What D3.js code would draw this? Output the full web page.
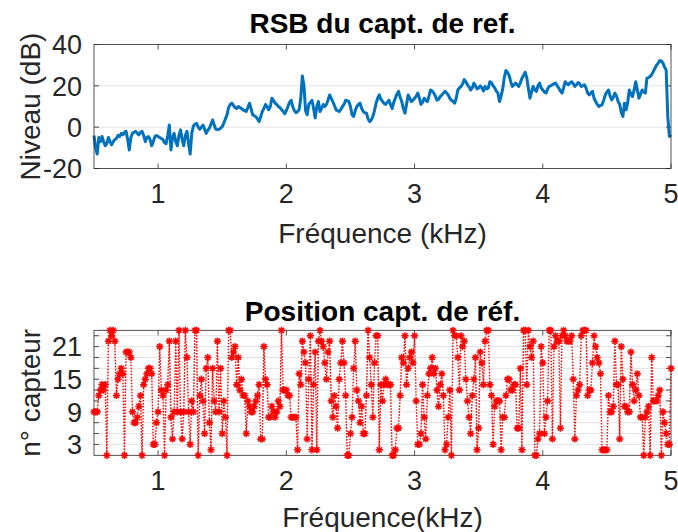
<!DOCTYPE html>
<html><head><meta charset="utf-8">
<script src="https://cdn.jsdelivr.net/npm/d3@7"></script>
<style>
html,body{margin:0;padding:0;background:#fff;}
svg{display:block;font-family:"Liberation Sans",Arial,Helvetica,sans-serif;}
</style></head>
<body>
<svg id="chart" width="678" height="532"></svg>
<script>
// ---------- data ----------
const freqStart = 0.5;      // kHz
const freqStep = 0.0125;    // kHz
// RSB (dB) of the reference sensor
const snrDb = [
-4,-10,-13,-5,-7,-4.5,-7,-9,-8,-5,
-7,-8.5,-7,-6,-5.5,-4,-4.5,-3,-3.7,-2.5,
-2,-6,-11,-5,-3,-2.5,-2,-3,-3.7,-2.5,
-2,-4,-7,-5,-4.5,-6,-9,-7,-4.5,-4,
-4.5,-5,-5.5,-6,-7.5,-8,-4,1,-11,-5,
-3,-7,-9,-4,-1.3,-6,-9,-4,-2,-8,
-13,-3,0.5,1.5,1.8,0,-1,0,1,-1,
-3,-1.5,-0.5,1.5,3.5,1,-1,-1.2,-1,-0.5,
0.3,2,4,6,9.5,11,11.6,10.5,9.5,9,
10,9.5,9,8.4,8,7.6,9.5,11.6,9,6,
5.5,5,4,2.7,5,7.6,9,11,10,8.4,
10,14,13,11.6,11,10,9.5,8.5,7.6,6.5,
8,10,12,13,10,8,7,7.5,8.5,14,
24.8,20,8,6,11,12,13,9,4.4,10,
12.4,7.6,9,11,10,11,13,15.6,14,12.4,
10.5,8.4,8,7.6,8.5,10,11,13,12.8,12.4,
10,6,5.2,8,10,11,11.6,9,7.6,7,
6.8,4,2.7,3.5,5.2,8,11.6,14,15.6,13.5,
12.5,11.5,11,12,13,11,9,12,14,16,
17.3,14.5,12.4,9,6.8,11,15.6,14,12.4,13,
14,15,16.5,14,11,12,14,13,12.4,15,
18,17.5,16.5,15,13,13.5,14.8,15.5,16.5,17.3,
16.5,15.6,14,13,12.5,11.6,14,18,19,19.7,
21,23,22,20.5,19.5,18,19,21.3,20,18.5,
19,20,19,17.5,19.7,18.5,19,22,21.5,20,
19,17.5,16.5,12.4,15,18.5,24,27.4,26.5,25,
22,19.7,20.5,21.3,20.5,19.7,21.5,23.7,25,26.6,
24,19,14,17,19.7,18,17.3,20,21.3,19,
18,17,16.5,18.5,19.7,20,20.5,21,21.3,20,
18.9,17.5,16.5,19,22,21,20.5,21.5,22,21,
19.7,20.5,21.6,21,19.7,20,20.5,19,16.5,15.6,
16.5,17.3,14,12.4,11,10,10.5,10.8,13,15.6,
17,18,15,13.2,14.5,16.5,15,12.4,11,7,
5.2,11.6,8.4,12,18,16,14.8,18,22,18,
14,16,18,17,16.5,23.7,24,24.5,25.5,27,
28.5,30,31,32.2,32,31,29,27.7,5,-4.5,
-3.7
];
// position (sensor number) of the reference sensor
const sensorIdx = [
9,9,9,12,13,14,13,14,1,22,
24,23,24,22,12,15,16,17,16,1,
20,20,20,19,9,7,7,8,10,12,
1,14,15,16,17,17,16,3,3,7,
9,21,13,12,1,13,14,22,8,4,
9,22,9,24,9,4,9,24,19,9,
3,11,9,24,24,1,12,15,11,5,
17,19,7,2,17,11,9,22,9,17,
5,11,8,1,24,24,19,20,21,14,
19,13,15,12,12,5,11,10,9,9,
10,11,12,14,4,4,21,15,14,8,
8,10,9,8,9,11,10,24,13,13,
13,12,12,8,8,8,8,2,16,14,
22,20,18,4,15,23,2,14,20,2,
22,24,22,21,18,15,20,22,11,8,
12,10,6,15,18,22,18,12,1,1,
5,8,17,22,13,11,7,10,5,5,
12,24,19,14,8,18,23,23,2,14,
11,14,15,14,14,14,1,1,2,6,
6,12,19,18,23,14,17,19,20,18,
23,11,3,3,5,14,8,4,12,16,
17,19,16,17,13,10,14,16,12,2,
3,8,13,1,24,23,23,19,13,23,
21,22,15,11,8,5,12,15,19,2,
6,20,18,14,22,24,24,14,12,3,
10,11,11,11,2,8,8,12,15,15,
13,13,14,14,6,6,17,2,24,24,
14,24,21,19,22,1,1,4,5,21,
18,5,8,11,24,24,4,21,23,22,
22,6,23,24,23,22,22,22,23,15,
4,12,13,14,23,24,24,24,12,13,
13,18,23,21,19,18,16,2,2,2,
2,12,9,9,10,22,14,14,4,21,
15,10,10,9,9,20,14,11,13,16,
12,8,8,1,8,9,10,1,19,11,
11,11,12,13,1,9,7,5,3,3,
17
];
const xTicks = [1, 2, 3, 4, 5];
const snrTicks = [-20, 0, 20, 40];
const sensorTicks = [3, 9, 15, 21];
const sensorGrid = [3, 5, 7, 9, 11, 13, 15, 17, 19, 21, 23];
const titles = ["RSB du capt. de ref.", "Position capt. de réf."];
const xLabels = ["Fréquence (kHz)", "Fréquence(kHz)"];
const yLabels = ["Niveau (dB)", "n° capteur"];

// ---------- drawing ----------
const svg = d3.select("#chart");
const axisColor = "#262626";
const L = 94, R = 671;
const x = d3.scaleLinear().domain([0.5, 5]).range([L, R]);

function panel(cfg) {
  const {top, bottom, y, yTicks, yGrid, yTickMarks, title, xlab, ylab, titleY, xTickY, xLabY} = cfg;
  const g = svg.append("g");
  g.selectAll("line.grid").data(yGrid).enter().append("line")
    .attr("x1", L).attr("x2", R)
    .attr("y1", d => y(d)).attr("y2", d => y(d))
    .attr("stroke", "#e3e3e3").attr("stroke-width", 1);
  const tl = 5;
  xTicks.forEach(t => {
    g.append("line").attr("x1", x(t)).attr("x2", x(t)).attr("y1", bottom).attr("y2", bottom - tl)
      .attr("stroke", axisColor).attr("stroke-width", 0.8);
    g.append("line").attr("x1", x(t)).attr("x2", x(t)).attr("y1", top).attr("y2", top + tl)
      .attr("stroke", axisColor).attr("stroke-width", 0.8);
  });
  yTickMarks.forEach(t => {
    g.append("line").attr("x1", L).attr("x2", L + tl).attr("y1", y(t)).attr("y2", y(t))
      .attr("stroke", axisColor).attr("stroke-width", 0.8);
    g.append("line").attr("x1", R).attr("x2", R - tl).attr("y1", y(t)).attr("y2", y(t))
      .attr("stroke", axisColor).attr("stroke-width", 0.8);
  });
  g.selectAll("text.xt").data(xTicks).enter().append("text")
    .attr("x", d => x(d)).attr("y", xTickY).attr("text-anchor", "middle")
    .attr("font-size", 27).attr("fill", axisColor).text(d => d);
  g.selectAll("text.yt").data(yTicks).enter().append("text")
    .attr("x", L - 12).attr("y", d => y(d)).attr("dy", "0.36em").attr("text-anchor", "end")
    .attr("font-size", 27).attr("fill", axisColor).text(d => d);
  g.append("text").attr("x", (L + R) / 2).attr("y", xLabY).attr("text-anchor", "middle")
    .attr("font-size", 28).attr("fill", axisColor).text(xlab);
  g.append("text").attr("transform", `translate(40,${(top + bottom) / 2}) rotate(-90)`)
    .attr("text-anchor", "middle").attr("font-size", 28).attr("fill", axisColor).text(ylab);
  g.append("text").attr("x", (L + R) / 2).attr("y", titleY).attr("text-anchor", "middle")
    .attr("font-size", 28).attr("font-weight", "bold").attr("fill", "#000").text(title);
  return g;
}

// top panel
const yTop = d3.scaleLinear().domain([-20, 40]).range([168.5, 44.5]);
const gTop = panel({top: 44.5, bottom: 168.5, y: yTop, yTicks: snrTicks, yGrid: [0, 20],
  yTickMarks: snrTicks, title: titles[0], xlab: xLabels[0], ylab: yLabels[0],
  titleY: 33, xTickY: 203, xLabY: 243});
const snrData = snrDb.map((v, i) => [freqStart + i * freqStep, v]);
gTop.append("path").datum(snrData)
  .attr("fill", "none").attr("stroke", "#0072BD").attr("stroke-width", 3)
  .attr("stroke-linejoin", "round")
  .attr("d", d3.line().x(d => x(d[0])).y(d => yTop(d[1])));
gTop.append("rect").attr("x", L).attr("y", 44.5).attr("width", R - L).attr("height", 124)
  .attr("fill", "none").attr("stroke", axisColor).attr("stroke-width", 0.8);

// bottom panel
const yBot = d3.scaleLinear().domain([1, 24]).range([455.3, 330.3]);
const gBot = panel({top: 330.3, bottom: 455.3, y: yBot, yTicks: sensorTicks, yGrid: sensorGrid,
  yTickMarks: sensorGrid, title: titles[1], xlab: xLabels[1], ylab: yLabels[1],
  titleY: 321, xTickY: 490, xLabY: 527});
gBot.append("rect").attr("x", L).attr("y", 330.3).attr("width", R - L).attr("height", 125)
  .attr("fill", "none").attr("stroke", axisColor).attr("stroke-width", 0.8);
const posData = sensorIdx.map((v, i) => [freqStart + i * freqStep, v]);
gBot.append("path").datum(posData)
  .attr("fill", "none").attr("stroke", "#ff0000").attr("stroke-width", 1.4)
  .attr("stroke-dasharray", "1.6,1.4")
  .attr("d", d3.line().x(d => x(d[0])).y(d => yBot(d[1])));
const r = 3.6, a = r * 0.707;
const star = `M${-r},0L${r},0M0,${-r}L0,${r}M${-a},${-a}L${a},${a}M${-a},${a}L${a},${-a}`;
gBot.selectAll("path.mk").data(posData).enter().append("path")
  .attr("transform", d => `translate(${x(d[0])},${yBot(d[1])})`)
  .attr("d", star).attr("fill", "none").attr("stroke", "#ff0000").attr("stroke-width", 1.5);
</script>
</body></html>
